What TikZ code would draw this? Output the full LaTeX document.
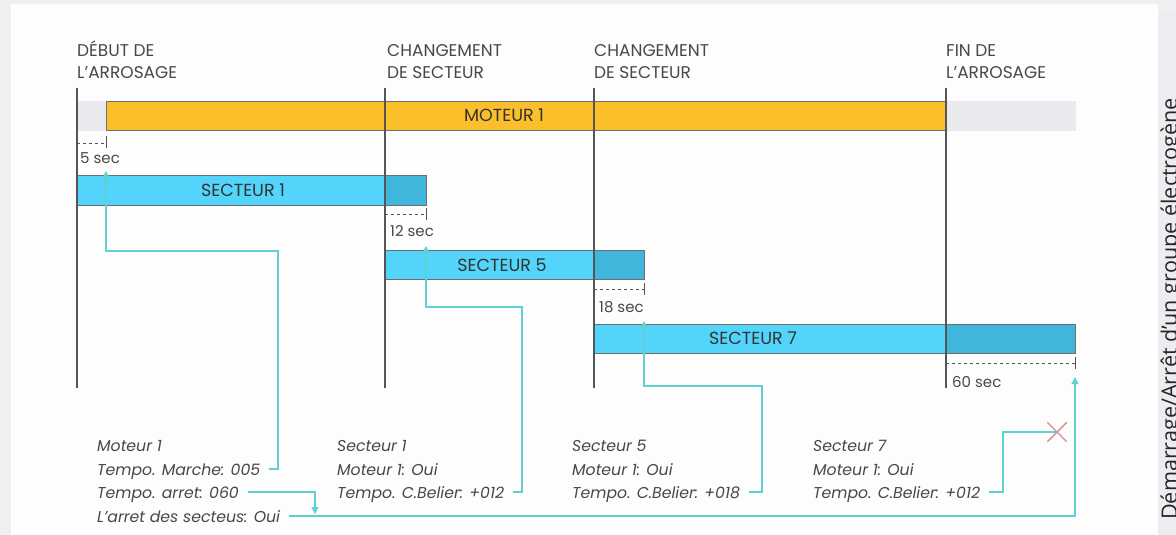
\documentclass[tikz,border=0pt]{standalone}
\usepackage{fontspec}
\setmainfont{Poppins}
\newfontfamily\sidefont{Open Sans}
\usetikzlibrary{arrows.meta,shapes.misc}

\definecolor{frame}{HTML}{EEEFF1}
\definecolor{paper}{HTML}{FDFDFD}
\definecolor{sidepanel}{HTML}{ECEDF0}
\definecolor{ink}{HTML}{555555}
\definecolor{textgray}{HTML}{484848}
\definecolor{label}{HTML}{333333}
\definecolor{amber}{HTML}{FBBF2C}
\definecolor{idle}{HTML}{E9EAEE}
\definecolor{sky}{HTML}{52D4FB}
\definecolor{skydark}{HTML}{41B6DC}
\definecolor{link}{HTML}{5FD1D0}
\definecolor{cross}{HTML}{D98A8A}

\tikzset{
  bar/.style={draw=ink!85, line width=0.9pt},
  timeline/.style={draw=ink, line width=1.3pt},
  gap/.style={draw=ink, line width=1pt, dash pattern=on 3pt off 3pt},
  tick/.style={draw=ink, line width=1pt},
  phase/.style={inner sep=0pt, anchor=base west, align=left, text=textgray,
    font=\fontsize{17}{21.5}\selectfont},
  barlabel/.style={inner sep=0pt, text=label, font=\fontsize{17.5}{17.5}\selectfont},
  delay/.style={inner sep=0pt, anchor=base west, text=textgray, font=\fontsize{15}{15}\selectfont},
  param/.style={inner sep=0pt, anchor=base west, text=textgray, text height=12pt, text depth=0pt,
    font=\itshape\fontsize{15.7}{15.7}\selectfont},
  conn/.style={draw=link, line width=1.5pt, shorten <=9pt},
  tip/.style={-{Triangle[width=7pt,length=7pt]}},
}

\begin{document}
\begin{tikzpicture}[x=1pt,y=-1pt]
\useasboundingbox (0,0) rectangle (1176,535);
% page frame and panels
\fill[frame] (0,0) rectangle (1176,535);
\fill[paper] (11,4) rectangle (1158,535);
\fill[sidepanel] (1158,13) rectangle (1176,535);
\node[rotate=90, anchor=base west, inner sep=0pt, text=black!85,
  font=\sidefont\fontsize{21.6}{21.6}\selectfont] (side) at (1177,520)
  {Démarrage/Arrêt d’un groupe électrogène};

% phase labels (anchored on the baseline of their second line)
\node[phase] (p0) at (77,78) {DÉBUT DE\\L’ARROSAGE};
\node[phase] (p1) at (387,78) {CHANGEMENT\\DE SECTEUR};
\node[phase] (p2) at (594,78) {CHANGEMENT\\DE SECTEUR};
\node[phase] (p3) at (946,78) {FIN DE\\L’ARROSAGE};

% motor bar
\path[bar, draw=idle!80!black!30, fill=idle] (77,101) rectangle (1075,130);
\path[bar, fill=amber] (106,101) rectangle (946,130);
\node[barlabel] (mot) at (504,115.5) {MOTEUR 1};

% sector bars
\path[bar, fill=sky] (77,175) rectangle (385,205);
\path[bar, fill=skydark] (385,175) rectangle (426,205);
\node[barlabel] (sec1) at (243,190) {SECTEUR 1};

\path[bar, fill=sky] (385,250) rectangle (594,279);
\path[bar, fill=skydark] (594,250) rectangle (644,279);
\node[barlabel] (sec5) at (502,265) {SECTEUR 5};

\path[bar, fill=sky] (594,324) rectangle (946,353);
\path[bar, fill=skydark] (946,324) rectangle (1075,353);
\node[barlabel] (sec7) at (753,338.5) {SECTEUR 7};

% timeline markers
\foreach \t in {77,385,594,946} \draw[timeline] (\t,88) -- (\t,388);

% delays
\draw[gap] (77,143) -- (106,143);
\draw[tick] (106,136) -- (106,148);
\node[delay] (d5) at (80,163) {5 sec};

\draw[gap] (385,214) -- (426,214);
\draw[tick] (426,208) -- (426,220);
\node[delay] (d12) at (390,236) {12 sec};

\draw[gap] (594,289) -- (644,289);
\draw[tick] (644,283) -- (644,295);
\node[delay] (d18) at (599,312) {18 sec};

\draw[gap] (946,363) -- (1075,363);
\draw[tick] (1075,357) -- (1075,369);
\node[delay] (d60) at (952,387) {60 sec};

% parameter blocks
\node[param] (m1a) at (97,451) {Moteur 1};
\node[param] (m1b) at (97,475) {Tempo. Marche: 005};
\node[param] (m1c) at (97,498) {Tempo. arret: 060};
\node[param] (m1d) at (97,522) {L’arret des secteus: Oui};

\node[param] (s1a) at (337,451) {Secteur 1};
\node[param] (s1b) at (337,475) {Moteur 1: Oui};
\node[param] (s1c) at (337,498) {Tempo. C.Belier: +012};

\node[param] (s5a) at (572,451) {Secteur 5};
\node[param] (s5b) at (572,475) {Moteur 1: Oui};
\node[param] (s5c) at (572,498) {Tempo. C.Belier: +018};

\node[param] (s7a) at (813,451) {Secteur 7};
\node[param] (s7b) at (813,475) {Moteur 1: Oui};
\node[param] (s7c) at (813,498) {Tempo. C.Belier: +012};

% routing points and arrow targets
\coordinate (k1) at (278,251);
\coordinate (t5) at (106,171);
\coordinate (k2) at (522,307);
\coordinate (t12) at (426,246);
\coordinate (k3) at (762,386);
\coordinate (t18) at (644,321);
\coordinate (k7) at (1003,432);
\coordinate (t60) at (1075,377);
\coordinate (a1) at (315,514);
\node[cross out, draw=cross, line width=1.4pt, minimum size=18pt, inner sep=0pt] (x7) at (1057,432) {};

% connectors
\draw[conn, tip] (m1b.east) -| (k1) -| (t5);
\draw[conn, tip] (s1c.east) -| (k2) -| (t12);
\draw[conn, tip] (s5c.east) -| (k3) -| (t18);
\draw[conn] (s7c.east) -| (k7) -- (x7.center);
\draw[conn, tip] (m1c.east) -| (a1);
\draw[conn, tip] (m1d.east) -| (t60);
\end{tikzpicture}
\end{document}
